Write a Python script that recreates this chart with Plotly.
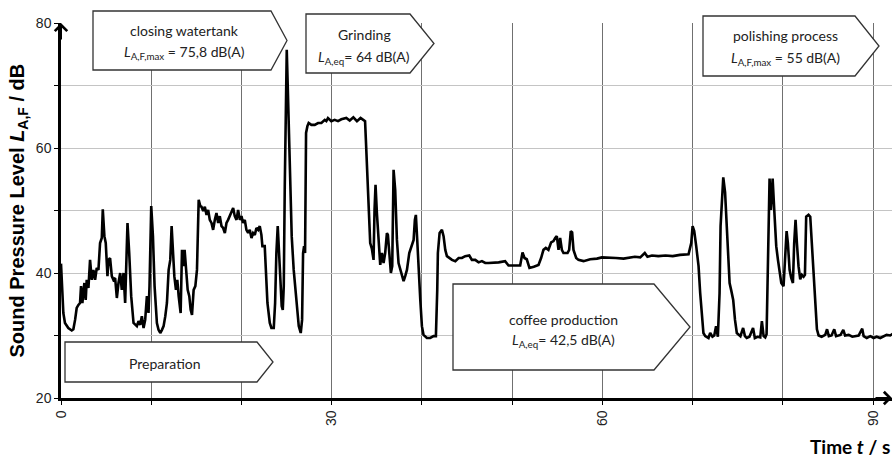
import plotly.graph_objects as go

# ---- data (time in s, level in dB) ----
time_s = [0, 0.26, 0.44, 0.81, 1.19, 1.37, 1.56, 1.74, 1.93, 2.11, 2.22, 2.37, 2.59, 2.74, 2.85, 3.04, 3.22, 3.41, 3.59, 3.78,
          3.96, 4.15, 4.33, 4.52, 4.63, 4.81, 4.96, 5.15, 5.26, 5.44, 5.63, 5.81, 6.0, 6.19, 6.37, 6.56, 6.74, 6.93, 7.11, 7.22,
          7.37, 7.56, 7.78, 8.04, 8.22, 8.41, 8.59, 8.78, 8.96, 9.15, 9.33, 9.52, 9.70, 9.81, 10.0, 10.19, 10.37, 10.63, 10.81, 11.0,
          11.19, 11.37, 11.56, 11.74, 11.93, 12.11, 12.26, 12.41, 12.56, 12.74, 12.89, 13.04, 13.26, 13.41, 13.56, 13.7, 13.89, 14.04, 14.22, 14.37,
          14.52, 14.70, 14.89, 15.07, 15.26, 15.44,
          15.57, 15.76, 15.94, 16.13, 16.31, 16.49, 16.68, 16.86, 17.05, 17.23, 17.42, 17.6, 17.79, 17.97, 18.16, 18.34, 18.52, 18.71, 18.89, 19.08,
          19.26, 19.45, 19.63, 19.82, 20.0, 20.18, 20.37, 20.55, 20.74, 20.92, 21.11, 21.29, 21.48, 21.66, 21.85, 22.03, 22.21, 22.32, 22.58, 22.69,
          22.88, 23.14, 23.32, 23.58, 23.73, 23.87, 24.02, 24.17, 24.32, 24.46, 24.58, 24.69, 24.80, 24.91, 25.02, 25.13, 25.35, 25.57, 25.79, 26.09,
          26.35, 26.57, 26.72, 26.83, 26.94, 27.05, 27.16, 27.31, 27.45, 27.75, 28.12, 28.49, 28.86, 29.23, 29.41, 29.59, 29.96, 30.33, 30.70, 31.07,
          31.62, 32.0, 32.4, 32.8, 33.2, 33.5, 33.7, 33.79, 34.01, 34.27, 34.45, 34.64, 34.75, 34.86, 35.01, 35.2, 35.38, 35.57, 35.75, 35.93,
          36.12, 36.23, 36.38, 36.56, 36.71, 36.86, 37.04, 37.23, 37.41, 37.71, 37.97, 38.15, 38.34, 38.6, 38.82, 39.08, 39.22, 39.33, 39.48, 39.63,
          39.82, 40.0, 40.18, 40.55, 40.92, 41.29, 41.55, 41.7, 41.77, 41.96, 42.22, 42.4, 42.59, 42.77, 43.03, 43.33, 43.7, 44.07, 44.43, 44.8,
          45.25, 45.54, 45.91, 46.28, 46.65, 47.02, 47.39, 47.95, 48.5, 49.22, 49.6, 50.2, 50.89, 51.15, 51.37, 51.62, 51.92, 52.4, 52.92, 53.21,
          53.47, 53.73, 54.02, 54.32, 54.58, 54.77, 54.95, 55.14, 55.32, 55.51, 55.69, 56.14, 56.32, 56.5, 56.65, 56.8, 57.1, 57.35, 57.91, 58.65,
          59.4, 59.95, 60.87, 61.5, 62.35, 63.0, 63.6, 64.2, 64.7, 65.0, 65.5, 66.2, 67.0, 67.8, 68.6, 69.55, 69.85, 70.0, 70.18, 70.4,
          70.66, 70.84, 71.03, 71.2, 71.4, 71.76, 71.95, 72.2, 72.4, 72.6, 72.8, 72.99, 73.1, 73.3, 73.4, 73.6, 73.9, 74.1, 74.3, 74.5,
          74.7, 74.9, 75.3, 75.6, 75.8, 76.0, 76.3, 76.7, 76.9, 77.2, 77.5, 77.68, 77.87, 78.05, 78.2, 78.42, 78.53, 78.68, 78.87, 79.05,
          79.27, 79.46, 79.64, 79.83, 80.08, 80.27, 80.42, 80.56, 80.75, 80.93, 81.12, 81.26, 81.41, 81.56, 81.74, 81.93, 82.11, 82.3, 82.45, 82.59,
          82.85, 83.04, 83.22, 83.41, 83.6, 83.78, 83.97, 84.3, 84.7, 84.9, 85.1, 85.4, 85.7, 85.9, 86.4, 86.7, 86.9, 87.3, 87.7, 88.0,
          88.4, 88.8, 88.96, 89.3, 89.7, 90.06, 90.4, 90.8, 91.17, 91.5, 91.9, 92.2]

level_db = [41.5, 33.6, 32.0, 31.2, 30.8, 31.0, 32.5, 34.4, 34.9, 35.2, 37.9, 35.2, 38.4, 35.7, 38.9, 37.6, 42.1, 38.9, 40.5, 38.9,
            40.8, 40.5, 44.8, 45.6, 50.2, 45.9, 44.8, 39.5, 42.1, 42.4, 39.5, 38.9, 39.2, 36.0, 38.4, 40.0, 37.3, 40.0, 35.2, 41.6,
            48.0, 43.2, 36.3, 32.0, 31.7, 31.5, 32.3, 31.7, 33.1, 31.2, 32.5, 36.3, 33.6, 37.9, 50.7, 45.9, 37.9, 32.0, 30.9, 30.4,
            30.9, 31.5, 33.1, 35.2, 40.5, 42.1, 47.5, 42.7, 39.5, 37.3, 38.9, 36.3, 33.6, 43.7, 41.1, 43.7, 40.5, 37.3, 36.3, 34.1,
            33.3, 37.3, 37.9, 40.5, 51.7, 50.7,
            50.6, 49.9, 50.6, 49.3, 50.1, 48.5, 48.0, 46.9, 48.5, 49.6, 48.0, 49.1, 47.5, 47.2, 46.4, 48.0, 48.5, 49.1, 49.9, 50.4,
            49.1, 48.5, 50.1, 48.5, 49.1, 48.0, 48.5, 46.9, 46.4, 46.9, 45.6, 46.4, 46.1, 47.2, 46.9, 47.5, 46.1, 44.3, 44.3, 40.6,
            35.2, 32.0, 31.2, 31.2, 35.2, 43.2, 47.5, 43.2, 39.0, 34.7, 34.1, 37.9, 53.9, 64.5, 75.7, 69.9, 56.5, 45.9, 40.5, 35.2,
            31.5, 30.4, 32.5, 43.2, 44.3, 43.2, 62.4, 63.5, 64.0, 63.7, 63.7, 64.0, 64.0, 64.5, 64.3, 64.8, 64.3, 64.5, 64.3, 64.6,
            64.8, 64.4, 64.9, 64.3, 64.8, 64.5, 64.3, 61.3, 53.3, 44.8, 43.9, 42.1, 50.1, 54.1, 49.6, 45.3, 41.3, 43.2, 41.6, 43.2,
            46.4, 46.1, 42.7, 40.0, 41.1, 56.5, 53.3, 45.3, 41.6, 40.0, 38.7, 39.5, 40.5, 43.2, 44.3, 45.3, 48.5, 49.3, 45.3, 40.0,
            35.7, 31.5, 30.1, 29.6, 29.6, 29.9, 29.9, 37.3, 43.2, 46.4, 46.9, 45.9, 43.7, 42.7, 42.4, 42.1, 41.9, 42.4, 42.4, 42.7,
            42.8, 42.1, 42.1, 41.7, 41.9, 41.6, 41.6, 41.6, 41.7, 41.9, 41.2, 41.2, 41.2, 43.3, 42.4, 42.2, 40.8, 41.0, 41.3, 42.4,
            43.7, 44.0, 43.7, 44.9, 45.1, 45.6, 45.9, 43.7, 45.6, 43.7, 43.2, 43.2, 43.7, 46.7, 46.5, 43.7, 42.4, 42.1, 41.9, 42.2,
            42.3, 42.5, 42.5, 42.4, 42.3, 42.5, 42.6, 42.5, 43.2, 42.6, 42.8, 42.7, 42.8, 42.7, 42.9, 43.0, 44.8, 47.5, 46.7, 44.3,
            41.1, 36.8, 32.5, 30.4, 29.9, 29.6, 30.4, 29.8, 30.0, 31.5, 29.8, 36.8, 47.5, 52.3, 55.3, 52.9, 44.8, 38.4, 37.1, 35.7,
            32.5, 30.4, 29.9, 31.2, 29.9, 29.6, 29.8, 31.2, 29.6, 29.8, 29.7, 32.3, 29.9, 29.7, 30.2, 47.4, 55.1, 50.1, 55.1, 50.1,
            44.3, 42.1, 40.5, 38.4, 37.9, 43.2, 46.7, 44.8, 40.5, 39.2, 38.4, 44.8, 48.5, 44.8, 41.1, 39.0, 39.7, 39.4, 39.7, 49.0,
            49.3, 49.0, 44.8, 39.0, 34.2, 31.0, 30.0, 29.8, 30.1, 31.0, 29.9, 30.0, 31.0, 29.9, 30.1, 30.9, 30.0, 30.1, 29.8, 29.9,
            30.0, 31.1, 29.9, 29.6, 29.9, 29.6, 29.8, 29.6, 29.9, 30.1, 30.0, 30.3]

x_tick_vals = [0, 10, 20, 30, 40, 50, 60, 70, 80, 90]
x_tick_text = ["0", "", "", "30", "", "", "60", "", "", "90"]
y_tick_vals = [20, 30, 40, 50, 60, 70, 80]
y_tick_text = ["20", "", "40", "", "60", "", "80"]

# phase labels: (title line, value line)
phase_lines = [
    ("closing watertank", "<i>L</i><sub>A,F,max</sub> = 75,8 dB(A)"),
    ("Grinding", "<i>L</i><sub>A,eq</sub>= 64 dB(A)"),
    ("polishing process", "<i>L</i><sub>A,F,max</sub> = 55 dB(A)"),
    ("Preparation", None),
    ("coffee production", "<i>L</i><sub>A,eq</sub>= 42,5 dB(A)"),
]

# ---- layout geometry ----
W, H = 893, 457
ML, MR, MT, MB = 61, 1, 23, 59
PW, PH = W - ML - MR, H - MT - MB


def px(x):
    return (x - ML) / PW


def py(y):
    return (H - MB - y) / PH


# arrow-box outlines in pixels: left, top, bottom, body-right, tip-x
boxes = [
    (93, 11, 70, 271, 287),
    (306, 14, 73, 410, 434),
    (703, 16, 76, 855, 879),
    (65, 342, 382, 257, 273),
    (453, 284, 370, 654, 690),
]
# text centres in pixels: x, y line1, y line2
text_pos = [
    (184, 31, 53),
    (364, 34, 57),
    (785, 36, 59),
    (165, 363, None),
    (563, 319, 340),
]

fig = go.Figure()
fig.add_trace(go.Scatter(x=time_s, y=level_db, mode="lines",
                         line=dict(color="black", width=2.6), hoverinfo="skip",
                         showlegend=False))

shapes = []
for (l, t, b, r, tip) in boxes:
    mid = (t + b) / 2
    path = (f"M {px(l)},{py(t)} L {px(r)},{py(t)} L {px(tip)},{py(mid)} "
            f"L {px(r)},{py(b)} L {px(l)},{py(b)} Z")
    shapes.append(dict(type="path", xref="paper", yref="paper", path=path,
                       fillcolor="white", line=dict(color="#333333", width=1.3),
                       layer="above"))

annots = []
box_font = dict(family="Lato, Liberation Sans, sans-serif", size=14, color="#222")
for (line1, line2), (cx, y1, y2) in zip(phase_lines, text_pos):
    annots.append(dict(xref="paper", yref="paper", x=px(cx), y=py(y1), text=line1,
                       showarrow=False, xanchor="center", yanchor="middle", font=box_font))
    if line2:
        annots.append(dict(xref="paper", yref="paper", x=px(cx), y=py(y2), text=line2,
                           showarrow=False, xanchor="center", yanchor="middle", font=box_font))

# axis arrows
annots.append(dict(xref="paper", yref="paper", x=0, y=1.0, ax=0, ay=18, text="",
                   showarrow=True, arrowhead=4, arrowsize=1.2, arrowwidth=2, arrowcolor="black"))
annots.append(dict(xref="paper", yref="paper", x=1.0, y=0, ax=-18, ay=0, text="",
                   showarrow=True, arrowhead=4, arrowsize=1.2, arrowwidth=2, arrowcolor="black"))

# axis titles
annots.append(dict(xref="paper", yref="paper", x=px(18), y=0.5, textangle=-90,
                   text="Sound Pressure Level <i>L</i><sub>A,F</sub> / dB", showarrow=False,
                   xanchor="center", yanchor="middle",
                   font=dict(family="Liberation Sans, Arial, sans-serif", size=20, color="black", weight="bold")))
annots.append(dict(xref="paper", yref="paper", x=1.0, y=py(446), text="Time <i>t</i> / s",
                   showarrow=False, xanchor="right", yanchor="middle",
                   font=dict(family="Lato, Liberation Sans, sans-serif", size=19, color="black", weight="bold")))

tick_font = dict(family="Liberation Sans, Arial, sans-serif", size=14, color="#222")
fig.update_layout(
    width=W, height=H,
    margin=dict(l=ML, r=MR, t=MT, b=MB, pad=0, autoexpand=False),
    paper_bgcolor="white", plot_bgcolor="white",
    shapes=shapes, annotations=annots,
    xaxis=dict(range=[0, 92.1], tickmode="array", tickvals=x_tick_vals, ticktext=x_tick_text,
               tickangle=-90, tickfont=tick_font, ticks="outside", ticklen=4, tickcolor="black",
               showgrid=True, gridcolor="#707070", gridwidth=1, automargin=False,
               showline=True, linecolor="black", linewidth=2.5, zeroline=False),
    yaxis=dict(range=[20, 80], tickmode="array", tickvals=y_tick_vals, ticktext=y_tick_text,
               tickfont=tick_font, ticks="outside", ticklen=4, tickcolor="black",
               showgrid=True, gridcolor="#c4c4c4", gridwidth=1, automargin=False,
               showline=True, linecolor="black", linewidth=2.5, zeroline=False),
)

fig.write_html("out.html", config={"displayModeBar": False},
               post_script="document.body.style.margin='0';document.body.style.overflow='hidden';")
